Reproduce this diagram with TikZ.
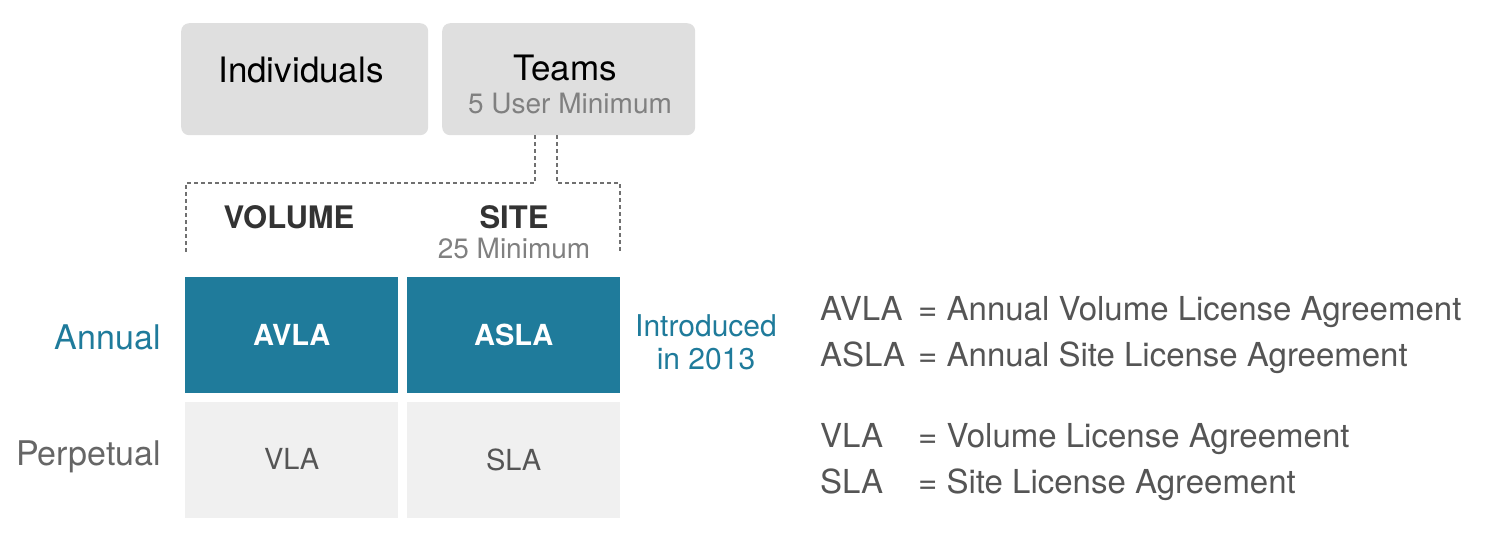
\documentclass[tikz,border=0pt]{standalone}
\usepackage{fontspec}
\setmainfont{TeX Gyre Heros}
\definecolor{teal1}{HTML}{1F7B9B}
\definecolor{topgray}{HTML}{DFDFDF}
\definecolor{cellgray}{HTML}{F0F0F0}
\definecolor{txtdark}{HTML}{333333}
\definecolor{txtgray}{HTML}{555555}
\definecolor{subgray}{HTML}{808080}
\definecolor{dashgray}{HTML}{707070}
\newcommand{\fs}[1]{\fontsize{#1}{#1}\selectfont}
\begin{document}
\begin{tikzpicture}[x=1pt,y=-1pt,
  topbox/.style={fill=topgray, rounded corners=8pt, inner sep=0pt, anchor=north west},
  tealcell/.style={fill=teal1, inner sep=0pt, anchor=north west, minimum width=213pt, minimum height=116pt, text=white, font=\fs{29}\bfseries},
  graycell/.style={fill=cellgray, inner sep=0pt, anchor=north west, minimum width=213pt, minimum height=116pt, text=txtgray, font=\fs{29}},
  dashline/.style={draw=dashgray, line width=1.4pt, dash pattern=on 4pt off 3pt},
  lbl/.style={inner sep=0pt},
  legend/.style={inner sep=0pt, anchor=base west, text=txtgray, font=\fs{33}}
]
\useasboundingbox (0,0) rectangle (1494,550);
% top boxes
\node[topbox, minimum width=247pt, minimum height=112pt] (indiv) at (181,23) {};
\node[topbox, minimum width=253pt, minimum height=112pt] (teams) at (442,23) {};
\node[lbl, font=\fs{35}, text=black] (indivt) at (301,70) {Individuals};
\node[lbl, font=\fs{35}, text=black] (teamst) at (565,68) {Teams};
\node[lbl, font=\fs{28}, text=subgray] (teamss) at (570,104) {5 User Minimum};
% column headers
\node[lbl, font=\fs{31}\bfseries, text=txtdark] (vol) at (289,217) {VOLUME};
\node[lbl, font=\fs{31}\bfseries, text=txtdark] (site) at (514,217) {SITE};
\node[lbl, font=\fs{28}, text=subgray] (sitemin) at (514,248) {25 Minimum};
% dashed brackets
\coordinate (l1) at (535,183);
\coordinate (l2) at (186,183);
\coordinate (l3) at (186,253);
\coordinate (r1) at (557,183);
\coordinate (r2) at (620,183);
\coordinate (r3) at (620,253);
\draw[dashline] (teams.south -| l1) -- (l1) -- (l2) -- (l3);
\draw[dashline] (teams.south -| r1) -- (r1) -- (r2) -- (r3);
% cells
\node[tealcell] (avla) at (185,277) {AVLA};
\node[tealcell] (asla) at (407,277) {ASLA};
\node[graycell] (vla) at (185,402) {\raisebox{2pt}{VLA}};
\node[graycell] (sla) at (407,402) {\raisebox{2pt}{SLA}};
% row labels
\node[lbl, anchor=east, font=\fs{34}, text=teal1] (annual) at (161,337) {Annual};
\node[lbl, anchor=east, font=\fs{34}, text=txtgray!90] (perp) at (161,457) {Perpetual};
\node[lbl, font=\fs{30}, text=teal1, align=center] (intro) at (706,342) {Introduced\\[3pt]in 2013};
% legend
\node[legend] (k1) at (820,320) {AVLA};
\node[legend] (v1) at (918,320) {= Annual Volume License Agreement};
\node[legend] (k2) at (820,366) {ASLA};
\node[legend] (v2) at (918,366) {= Annual Site License Agreement};
\node[legend] (k3) at (820,447) {VLA};
\node[legend] (v3) at (918,447) {= Volume License Agreement};
\node[legend] (k4) at (820,493) {SLA};
\node[legend] (v4) at (918,493) {= Site License Agreement};
\end{tikzpicture}
\end{document}
